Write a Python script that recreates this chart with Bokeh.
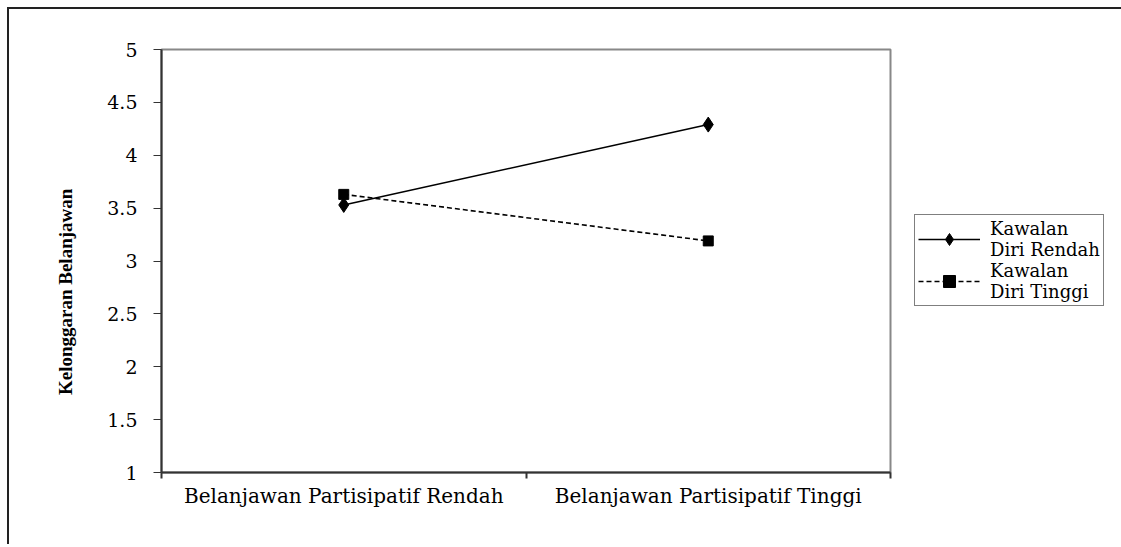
from bokeh.plotting import figure
from bokeh.models import Range1d, FixedTicker, Legend, LegendItem
from bokeh.embed import file_html
from bokeh.resources import INLINE

categories = ["Belanjawan Partisipatif Rendah", "Belanjawan Partisipatif Tinggi"]
series_names = ["Kawalan\nDiri Rendah", "Kawalan\nDiri Tinggi"]
kawalan_rendah = [3.53, 4.29]
kawalan_tinggi = [3.63, 3.19]
y_ticks = [1, 1.5, 2, 2.5, 3, 3.5, 4, 4.5, 5]
y_tick_labels = ["1", "1.5", "2", "2.5", "3", "3.5", "4", "4.5", "5"]
y_title = "Kelonggaran Belanjawan"

xs = [i + 0.5 for i in range(len(categories))]
FONT = "DejaVu Serif"
BOLD_FONT = "Liberation Serif"

p = figure(output_backend="svg", toolbar_location=None,
           x_range=Range1d(0, len(categories)), y_range=Range1d(1, 5),
           frame_width=729, frame_height=423,
           min_border_left=152, min_border_top=40, min_border_right=226, min_border_bottom=72)
p.styles = {"border-top": "2px solid #222", "border-left": "2px solid #222",
            "margin-left": "7px", "margin-top": "7px"}
p.background_fill_color = "white"
p.border_fill_color = "white"
p.grid.visible = False
p.outline_line_color = "#888888"
p.outline_line_width = 2

# y axis
p.yaxis.ticker = FixedTicker(ticks=y_ticks)
p.yaxis.major_label_overrides = {t: l for t, l in zip(y_ticks, y_tick_labels)}
p.yaxis.axis_line_color = "#333333"
p.yaxis.axis_line_width = 2
p.yaxis.major_tick_in = 0
p.yaxis.major_tick_out = 8
p.yaxis.major_tick_line_color = "#333333"
p.yaxis.minor_tick_line_color = None
p.yaxis.major_label_standoff = 16
p.yaxis.major_label_text_font = FONT
p.yaxis.major_label_text_font_size = "19px"
p.yaxis.major_label_text_color = "black"
p.yaxis.axis_label = y_title + "\u00a0" * 13
p.yaxis.axis_label_text_font = BOLD_FONT
p.yaxis.axis_label_text_font_style = "bold"
p.yaxis.axis_label_text_font_size = "19px"
p.yaxis.axis_label_text_color = "black"
p.yaxis.axis_label_standoff = 28

# x axis
p.xaxis.ticker = FixedTicker(ticks=xs, minor_ticks=list(range(len(categories) + 1)))
p.xaxis.major_label_overrides = {x: c for x, c in zip(xs, categories)}
p.xaxis.axis_line_color = "#333333"
p.xaxis.axis_line_width = 2
p.xaxis.major_tick_in = 0
p.xaxis.major_tick_out = 0
p.xaxis.minor_tick_in = 0
p.xaxis.minor_tick_out = 6
p.xaxis.minor_tick_line_color = "#333333"
p.xaxis.minor_tick_line_width = 2
p.xaxis.major_label_standoff = 5
p.xaxis.major_label_text_font = FONT
p.xaxis.major_label_text_font_size = "20px"
p.xaxis.major_label_text_color = "black"

l1 = p.line(xs, kawalan_rendah, line_color="black", line_width=1.6)
m1 = p.scatter(xs, kawalan_rendah, marker="diamond", size=15, fill_color="black", line_color="black")
l2 = p.line(xs, kawalan_tinggi, line_color="black", line_width=1.6, line_dash="5 3")
m2 = p.scatter(xs, kawalan_tinggi, marker="square", size=10, fill_color="black", line_color="black")

legend = Legend(items=[LegendItem(label=series_names[0], renderers=[l1, m1]),
                       LegendItem(label=series_names[1], renderers=[l2, m2])],
                location=(24, 166))
legend.border_line_color = "black"
legend.border_line_width = 1
legend.label_text_font = FONT
legend.label_text_font_size = "18px"
legend.label_text_color = "black"
legend.label_text_line_height = 0.8
legend.glyph_width = 62
legend.glyph_height = 30
legend.label_standoff = 10
legend.spacing = 0
legend.padding = 3
legend.margin = 0
legend.background_fill_alpha = 1
p.add_layout(legend, "right")

open("out.html", "w").write(file_html(p, INLINE))
